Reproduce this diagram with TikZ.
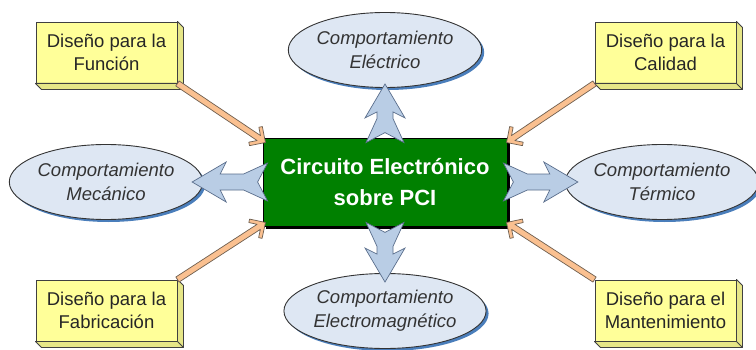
\documentclass[tikz,border=0pt]{standalone}
\usepackage{fontspec}
\setmainfont{Liberation Sans}
\usetikzlibrary{calc, shapes.geometric, shadows, decorations.markings}
\definecolor{pcbGreen}{RGB}{0,128,0}
\definecolor{noteYellow}{RGB}{255,255,153}
\definecolor{noteSide}{RGB}{230,230,135}
\definecolor{ellFill}{RGB}{222,231,243}
\definecolor{ellShadow}{RGB}{74,126,187}
\definecolor{flowBlue}{RGB}{185,205,229}
\definecolor{flowEdge}{RGB}{90,110,140}
\definecolor{peach}{RGB}{250,192,144}
\definecolor{peachEdge}{RGB}{110,95,80}
\newcommand\arrlen{\pgfdecoratedpathlength}

\tikzset{
  design/.style={rectangle, draw=black!75, line width=0.9pt, fill=noteYellow,
    minimum width=141pt, minimum height=61pt, align=center, text=black!85,
    font=\fontsize{18.5}{23}\selectfont},
  behavior/.style={ellipse, draw=black!80, line width=0.9pt, fill=ellFill,
    inner sep=0pt, minimum width=190pt, minimum height=75pt, align=center,
    text=black!80, font=\itshape\fontsize{18.5}{24}\selectfont,
    drop shadow={shadow xshift=2.5pt, shadow yshift=-2.5pt, fill=ellShadow, opacity=1}},
  board/.style={rectangle, draw=black, line width=0.8pt, fill=pcbGreen,
    minimum width=244pt, minimum height=88pt, align=center, text=white,
    font=\bfseries\fontsize{22}{31}\selectfont,
    drop shadow={shadow xshift=3pt, shadow yshift=-3pt, fill=black, opacity=1}},
  flow/.style={decorate, decoration={markings, mark=at position 0 with {
    \draw[fill=flowBlue, draw=flowEdge, line width=0.7pt, line join=miter]
      (10,0) -- (0,19) -- (24,8) -- ({\arrlen-28},8) -- ({\arrlen-34},20) -- ({\arrlen},0)
      -- ({\arrlen-34},-20) -- ({\arrlen-28},-8) -- (24,-8) -- (0,-19) -- cycle;}}},
  feeds/.style={decorate, decoration={markings, mark=at position 0 with {
    \draw[fill=peach, draw=peachEdge, line width=0.7pt, line join=round]
      (0,3) -- ({\arrlen-8},3) -- ({\arrlen-14},9) -- ({\arrlen-11.5},11.5)
      -- ({\arrlen},0) -- ({\arrlen-11.5},-11.5) -- ({\arrlen-14},-9)
      -- ({\arrlen-8},-3) -- (0,-3) -- cycle;}}}
}

\begin{document}
\begin{tikzpicture}[x=1pt, y=1pt]
  \useasboundingbox[fill=white] (0,0) rectangle (756,349);

  % design goals (yellow blocks)
  \node[design] (dfun) at (106.5,296.5) {Diseño para la\\Función};
  \node[design] (dcal) at (665.5,296.5) {Diseño para la\\Calidad};
  \node[design] (dfab) at (106.5,38.5)  {Diseño para la\\Fabricación};
  \node[design] (dman) at (665.5,38.5)  {Diseño para el\\Mantenimiento};
  \foreach \n in {dfun, dcal, dfab, dman} {
    \draw[fill=noteSide, draw=black!75, line width=0.9pt, line join=round]
      (\n.north east) -- ++(6,-6) |- ($(\n.south west)+(6,-6)$) -- (\n.south west)
      -- (\n.south east) -- (\n.north east) -- cycle;
    \draw[black!75, line width=0.9pt] (\n.south east) -- ++(6,-6);
  }

  % behaviours (ellipses)
  \node[behavior] (ee) at (385,299) {Comportamiento\\Eléctrico};
  \node[behavior] (em) at (106,167) {Comportamiento\\Mecánico};
  \node[behavior] (et) at (662,167) {Comportamiento\\Térmico};
  \node[behavior] (eg) at (385,38)  {Comportamiento\\Electromagnético};

  \node[board] (pcb) at (385,167) {Circuito Electrónico\\sobre PCI};

  % outgoing (blue)
  \path[flow] ($(pcb.north)+(0,-5)$) -- ($(ee.south)+(0,4)$);
  \path[flow] ($(pcb.south)+(0,4)$)  -- ($(eg.north)+(0,-9)$);
  \path[flow] ($(pcb.west)+(5,0)$)   -- ($(em.east)+(-11,0)$);
  \path[flow] ($(pcb.east)+(-4,0)$)  -- ($(et.west)+(13,0)$);
  % incoming (peach)
  \path[feeds] (dfun.south east) -- ($(pcb.north west)+(3,-5)$);
  \path[feeds] (dcal.south west) -- ($(pcb.north east)+(-1,-5)$);
  \path[feeds] (dfab.north east) -- ($(pcb.south west)+(3,4)$);
  \path[feeds] (dman.north west) -- ($(pcb.south east)+(-1,4)$);
\end{tikzpicture}
\end{document}
